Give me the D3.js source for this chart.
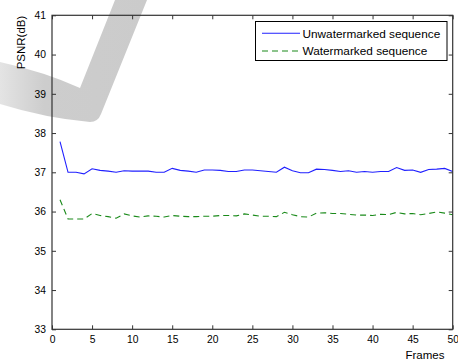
<!DOCTYPE html>
<html><head><meta charset="utf-8">
<script src="https://cdn.jsdelivr.net/npm/d3@7"></script>
<style>body{margin:0;background:#fff}svg{display:block}text{font-family:"Liberation Sans",Arial,sans-serif;fill:#000}</style>
</head><body>
<svg id="c" width="458" height="360"></svg>
<script>
const frames = d3.range(1, 51);
const unwatermarked = [37.78,37.0,37.0,36.96,37.09,37.05,37.03,37.0,37.04,37.03,
  37.03,37.03,37.0,37.0,37.1,37.05,37.03,37.0,37.06,37.06,
  37.05,37.02,37.02,37.06,37.06,37.04,37.02,37.0,37.13,37.04,
  36.99,36.99,37.08,37.07,37.05,37.02,37.04,37.0,37.02,37.0,
  37.02,37.02,37.12,37.05,37.06,37.0,37.07,37.08,37.1,37.02];
const watermarked = [36.3,35.81,35.81,35.81,35.95,35.9,35.87,35.83,35.94,35.89,
  35.86,35.89,35.88,35.86,35.9,35.88,35.87,35.87,35.88,35.88,
  35.9,35.9,35.89,35.94,35.91,35.88,35.88,35.87,35.98,35.92,
  35.87,35.86,35.96,35.97,35.95,35.95,35.93,35.91,35.91,35.9,
  35.93,35.92,35.98,35.94,35.95,35.92,35.95,35.99,35.96,35.92];
const xTicks = [0,5,10,15,20,25,30,35,40,45,50];
const yTicks = [33,34,35,36,37,38,39,40,41];
const seriesNames = ["Unwatermarked sequence","Watermarked sequence"];
const seriesColors = ["#2020ff","#1a8a1a"];

const svg = d3.select("#c");
const x = d3.scaleLinear().domain([0,50]).range([52,452.7]);
const y = d3.scaleLinear().domain([33,41]).range([329.3,15.3]);

// faded watermark shape
const grad = svg.append("defs").append("linearGradient").attr("id","g").attr("x1","0").attr("x2","1");
grad.append("stop").attr("offset","0").attr("stop-color","#e4e4e4");
grad.append("stop").attr("offset","0.3").attr("stop-color","#cdcdcd");
grad.append("stop").attr("offset","1").attr("stop-color","#cbcbcb");
svg.append("path")
  .attr("d","M115,0 L147,0 L101,114 Q98,122 90,122 Q45,118 0,104 L0,62 Q45,72 80,88 Z")
  .attr("fill","url(#g)");

// lines
const line = d3.line().x((d,i)=>x(frames[i])).y(d=>y(d));
svg.append("path").datum(unwatermarked).attr("d",line)
  .attr("fill","none").attr("stroke",seriesColors[0]).attr("stroke-width",1.1);
svg.append("path").datum(watermarked).attr("d",line)
  .attr("fill","none").attr("stroke",seriesColors[1]).attr("stroke-width",1.1)
  .attr("stroke-dasharray","6,4");

// axes
const axCol = "#333";
function style(g){g.select(".domain").remove();g.selectAll("line").attr("stroke",axCol);
  g.selectAll("text").attr("font-size",10.3).attr("font-family","'Liberation Sans',Arial,sans-serif").attr("fill","#000");}
svg.append("g").attr("transform",`translate(0,${y(33)})`)
  .call(d3.axisBottom(x).tickValues(xTicks).tickSize(-4).tickPadding(6).tickFormat(d3.format("d"))).call(style);
svg.append("g").attr("transform",`translate(0,${y(41)})`)
  .call(d3.axisTop(x).tickValues(xTicks).tickSize(-4).tickFormat("")).call(style);
svg.append("g").attr("transform",`translate(${x(0)},0)`)
  .call(d3.axisLeft(y).tickValues(yTicks).tickSize(-4).tickPadding(6).tickFormat(d3.format("d"))).call(style);
svg.append("g").attr("transform",`translate(${x(50)},0)`)
  .call(d3.axisRight(y).tickValues(yTicks).tickSize(-4).tickFormat("")).call(style);
svg.append("rect").attr("x",x(0)).attr("y",y(41)).attr("width",x(50)-x(0)).attr("height",y(33)-y(41))
  .attr("fill","none").attr("stroke",axCol).attr("stroke-width",1.2);

// labels
svg.append("text").attr("transform","translate(25,42.5) rotate(-90)")
  .attr("text-anchor","middle").attr("font-size",11.5).text("PSNR(dB)");
svg.append("text").attr("x",425).attr("y",359).attr("text-anchor","middle")
  .attr("font-size",11.5).text("Frames");

// legend
const lg = svg.append("g");
lg.append("rect").attr("x",255.5).attr("y",21.5).attr("width",191.5).attr("height",39)
  .attr("fill","#fff").attr("stroke","#000").attr("stroke-width",1);
const ly = [33.3, 51];
seriesNames.forEach((n,i)=>{
  lg.append("line").attr("x1",262).attr("x2",300).attr("y1",ly[i]).attr("y2",ly[i])
    .attr("stroke",seriesColors[i]).attr("stroke-width",1.1)
    .attr("stroke-dasharray",i===1?"6,4":null);
  lg.append("text").attr("x",302.5).attr("y",ly[i]+4.2).attr("font-size",11.8).text(n);
});
</script>
</body></html>
